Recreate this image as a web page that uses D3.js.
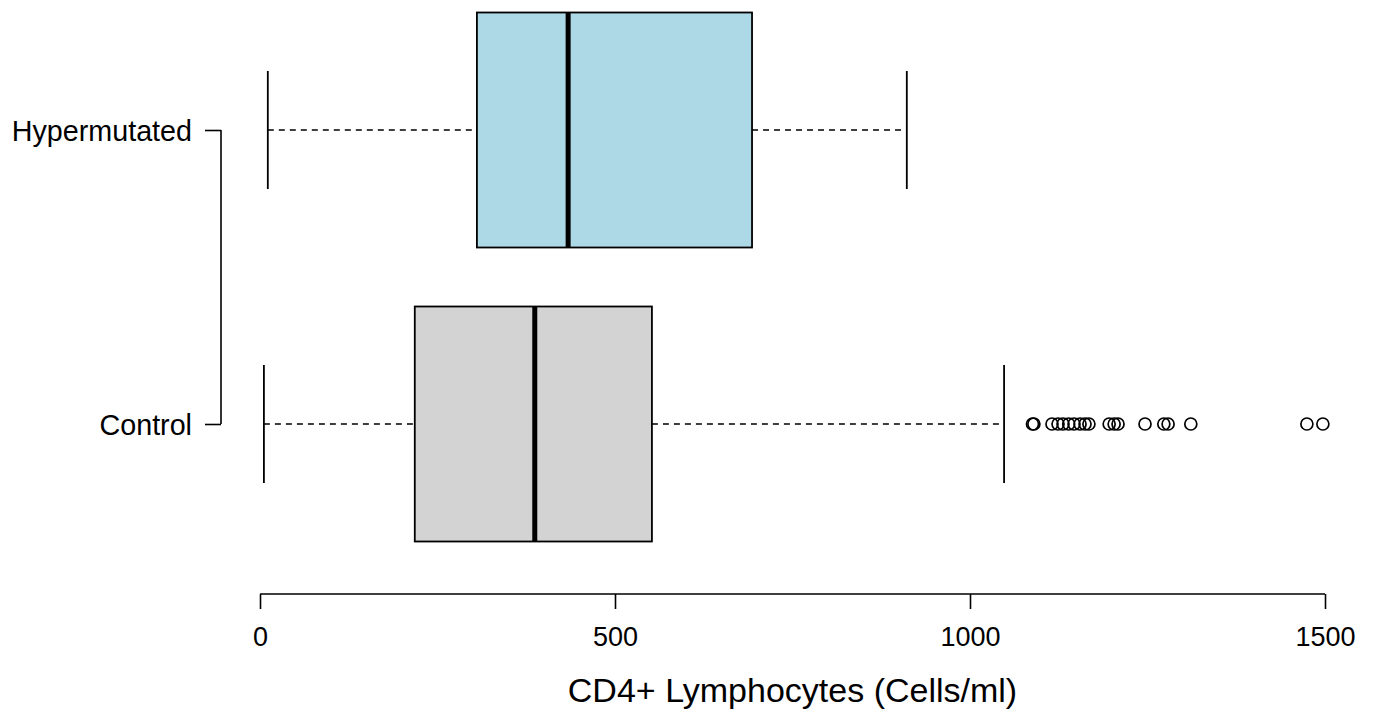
<!DOCTYPE html>
<html><head><meta charset="utf-8">
<script src="https://cdn.jsdelivr.net/npm/d3@7"></script>
<style>body{margin:0;background:#fff}svg{display:block}text{font-family:"Liberation Sans",Arial,Helvetica,sans-serif;fill:#000}</style>
</head><body><svg id="c" width="1376" height="715"></svg>
<script>
const groups = ["Hypermutated", "Control"];
const fills = ["#ADD8E6", "#D3D3D3"];
const whiskerLow = [11, 5.5];
const q1 = [305.5, 218];
const medians = [434, 387];
const q3 = [693, 552];
const whiskerHigh = [911, 1048];
const outliersControl = [1088, 1090, 1115.5, 1124, 1131, 1139, 1146.5, 1155, 1162, 1167.5, 1196, 1203, 1208.5, 1246.5, 1273, 1279, 1311, 1474.5, 1497];
const xTicks = [0, 500, 1000, 1500];

const svg = d3.select("#c");
const x = d3.scaleLinear().domain([0, 1500]).range([260, 1325]);
const y = d3.scalePoint().domain(groups).range([130, 424]);
const boxH = 235, capH = 118;

groups.forEach((g, i) => {
  const cy = y(g);
  const gg = svg.append("g");
  gg.append("line").attr("x1", x(whiskerLow[i])).attr("x2", x(q1[i])).attr("y1", cy).attr("y2", cy)
    .attr("stroke", "#000").attr("stroke-width", 1.5).attr("stroke-dasharray", "6,5");
  gg.append("line").attr("x1", x(q3[i])).attr("x2", x(whiskerHigh[i])).attr("y1", cy).attr("y2", cy)
    .attr("stroke", "#000").attr("stroke-width", 1.5).attr("stroke-dasharray", "6,5");
  [whiskerLow[i], whiskerHigh[i]].forEach(v => {
    gg.append("line").attr("x1", x(v)).attr("x2", x(v)).attr("y1", cy - capH / 2).attr("y2", cy + capH / 2)
      .attr("stroke", "#000").attr("stroke-width", 1.8);
  });
  gg.append("rect").attr("x", x(q1[i])).attr("y", cy - boxH / 2).attr("width", x(q3[i]) - x(q1[i])).attr("height", boxH)
    .attr("fill", fills[i]).attr("stroke", "#000").attr("stroke-width", 1.8);
  gg.append("line").attr("x1", x(medians[i])).attr("x2", x(medians[i])).attr("y1", cy - boxH / 2).attr("y2", cy + boxH / 2)
    .attr("stroke", "#000").attr("stroke-width", 5);
});

svg.append("g").selectAll("circle").data(outliersControl).join("circle")
  .attr("cx", d => x(d)).attr("cy", y("Control")).attr("r", 6)
  .attr("fill", "none").attr("stroke", "#000").attr("stroke-width", 1.7);

const ax = svg.append("g").attr("transform", "translate(0,594)")
  .call(d3.axisBottom(x).tickValues(xTicks).tickSize(15).tickPadding(18).tickFormat(d3.format("d")));
ax.select(".domain").attr("stroke-width", 1.6).attr("d", `M${x(0)},0H${x(1500)}`);
ax.selectAll(".tick line").attr("stroke-width", 1.6);
ax.selectAll(".tick text").attr("font-size", 27).style("font-family", '"Liberation Sans",Arial,sans-serif');

const yAx = svg.append("g").attr("transform", "translate(221,0)")
  .call(d3.axisLeft(y).tickSize(16).tickPadding(13));
yAx.select(".domain").attr("stroke-width", 1.6).attr("d", `M0,${y(groups[0])}V${y(groups[1])}`);
yAx.selectAll(".tick line").attr("stroke-width", 1.6);
yAx.selectAll(".tick text").attr("font-size", 28.7).attr("dy", "0.36em").style("font-family", '"Liberation Sans",Arial,sans-serif');

svg.append("text").attr("x", x(750)).attr("y", 702).attr("text-anchor", "middle")
  .attr("font-size", 34).text("CD4+ Lymphocytes (Cells/ml)");
</script></body></html>
